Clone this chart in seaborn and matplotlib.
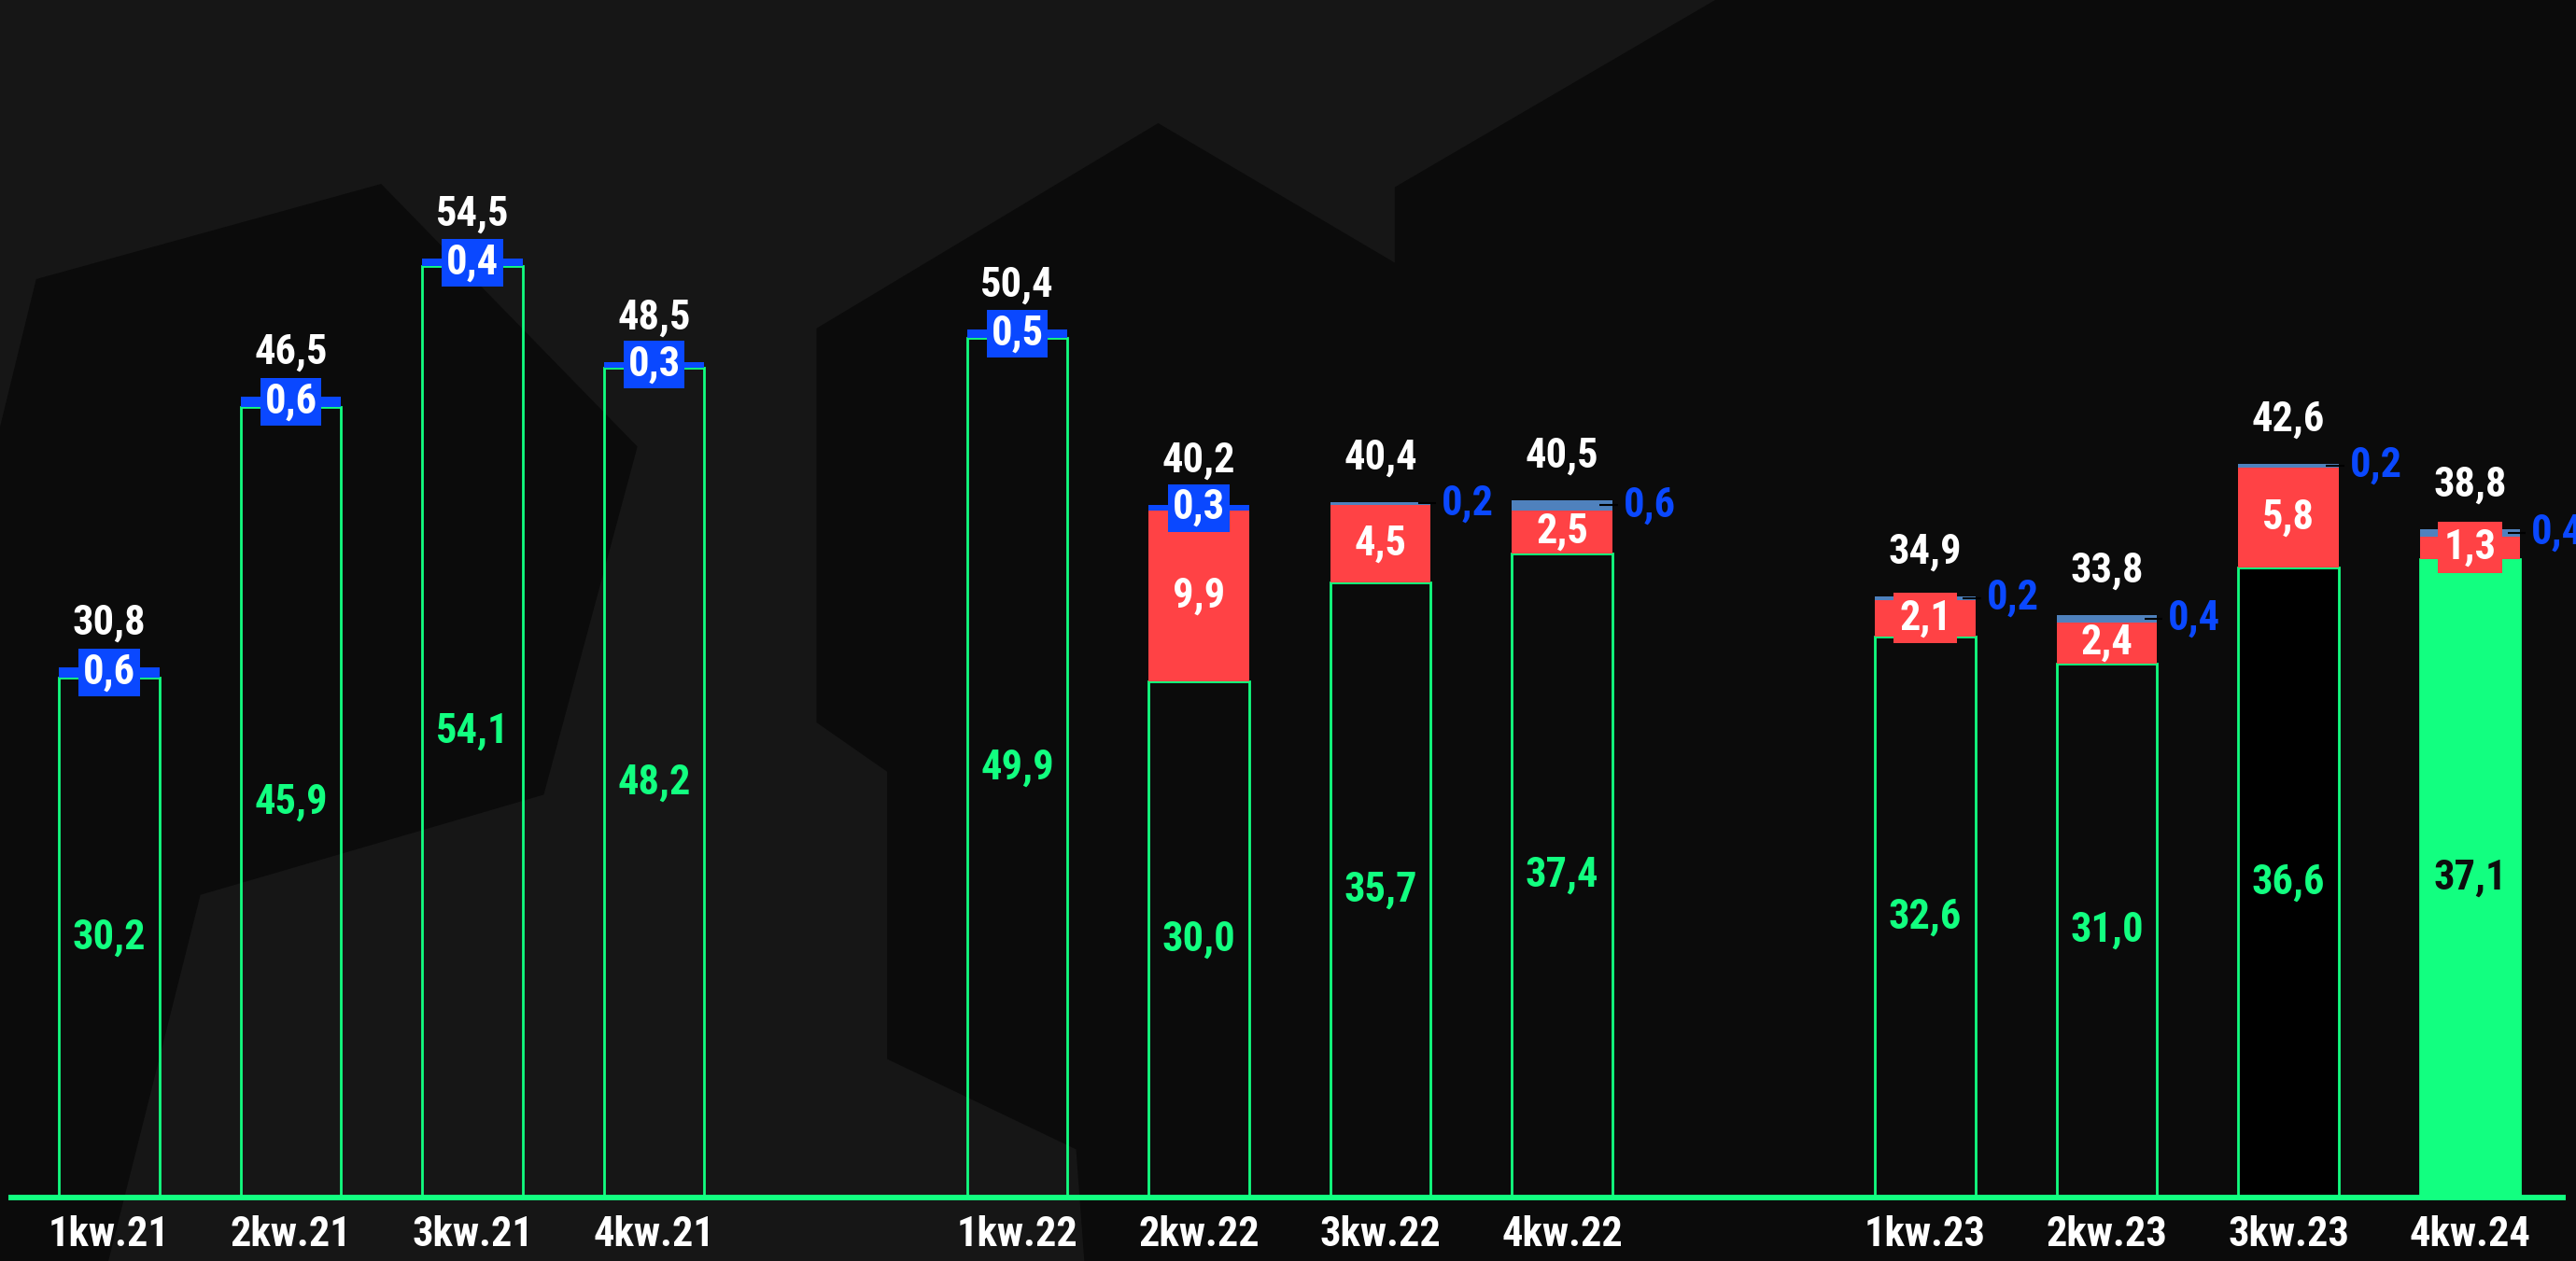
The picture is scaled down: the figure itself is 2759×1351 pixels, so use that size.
import numpy as np
import pandas as pd
import matplotlib.pyplot as plt
from matplotlib.patches import Polygon
import seaborn as sns

# -------------------------
# Data
# -------------------------

quarters = ["1kw.21", "2kw.21", "3kw.21", "4kw.21",
            "1kw.22", "2kw.22", "3kw.22", "4kw.22",
            "1kw.23", "2kw.23", "3kw.23", "4kw.24"]
group = [0, 0, 0, 0, 1, 1, 1, 1, 2, 2, 2, 2]
green_vals = [30.2, 45.9, 54.1, 48.2, 49.9, 30.0, 35.7, 37.4, 32.6, 31.0, 36.6, 37.1]
red_vals = [0, 0, 0, 0, 0, 9.9, 4.5, 2.5, 2.1, 2.4, 5.8, 1.3]
blue_vals = [0.6, 0.6, 0.4, 0.3, 0.5, 0.3, 0.2, 0.6, 0.2, 0.4, 0.2, 0.4]

df = pd.DataFrame({"quarter": quarters, "group": group,
                   "green": green_vals, "red": red_vals, "blue": blue_vals})
df["pos"] = np.arange(len(df)) + df["group"]  # one empty slot between groups
df["base2"] = df["green"] + df["red"]
df["total"] = df["base2"] + df["blue"]

def fmt(v):
    return f"{v:.1f}".replace(".", ",")

# -------------------------
# Style
# -------------------------

GREEN = "#12ff80"
RED = "#ff4245"
BLUE = "#0a48ff"
STEEL = "#4f81bd"
BG_LIGHT = "#161616"
BG_DARK = "#0b0b0b"
BAR_W = 0.555

sns.set_style("dark")
plt.rcParams["font.family"] = ["Roboto Condensed", "Noto Sans Condensed",
                               "Open Sans Condensed", "DejaVu Sans"]
plt.rcParams["font.stretch"] = "condensed"
plt.rcParams["font.weight"] = "bold"

fig = plt.figure(figsize=(27.59, 13.51), dpi=100, facecolor=BG_LIGHT)

# background shapes (pixel coords of a 1568x768 frame)
shapes = [
    [(0, 260), (22, 170), (232, 112), (388, 272), (331, 484), (122, 545), (66, 768), (0, 768)],
    [(497, 200), (705, 75), (849, 160), (849, 114), (1044, 0), (1568, 0), (1568, 768),
     (660, 768), (655, 700), (540, 645), (540, 470), (497, 440)],
]
for pts in shapes:
    fig.patches.append(Polygon([(x / 1568, 1 - y / 768) for x, y in pts], closed=True,
                               transform=fig.transFigure, facecolor=BG_DARK,
                               edgecolor="none", zorder=0))

ax = fig.add_axes([12 / 2759, 0, (2745 - 12) / 2759, 1])
ax.set_facecolor("none")
ax.set_zorder(2)

# -------------------------
# Stacked bars
# -------------------------

sns.barplot(x=df["pos"], y=df["green"], native_scale=True, orient="x", width=BAR_W,
            color=GREEN, saturation=1, errorbar=None, linewidth=2, edgecolor=GREEN, ax=ax)
green_bars = ax.containers[-1]
for i, p in enumerate(green_bars):
    if i == len(df) - 1:
        p.set_facecolor(GREEN)
    elif i == len(df) - 2:
        p.set_facecolor("black")
    else:
        p.set_facecolor("none")

sns.barplot(x=df["pos"], y=df["red"], bottom=df["green"], native_scale=True, orient="x",
            width=BAR_W, color=RED, saturation=1, errorbar=None, linewidth=0, ax=ax)
red_bars = ax.containers[-1]

sns.barplot(x=df["pos"], y=df["blue"], bottom=df["base2"], native_scale=True, orient="x",
            width=BAR_W, color=STEEL, saturation=1, errorbar=None, linewidth=0, ax=ax)
blue_bars = ax.containers[-1]

blue_boxed = [True] * 6 + [False] * 6
for p, boxed in zip(blue_bars, blue_boxed):
    if boxed:
        p.set_facecolor(BLUE)

# -------------------------
# Labels
# -------------------------

FS = 32

green_colors = ["#0d0d0d" if i == len(df) - 1 else GREEN for i in range(len(df))]
texts = ax.bar_label(green_bars, labels=[fmt(v) for v in df["green"]],
                     label_type="center", fontsize=FS)
for t, c in zip(texts, green_colors):
    t.set_color(c)

texts = ax.bar_label(red_bars, labels=[fmt(v) if v > 0 else "" for v in df["red"]],
                     label_type="center", fontsize=FS, color="white")
for t, v in zip(texts, df["red"]):
    if 0 < v < 2.2:
        t.set_bbox(dict(boxstyle="square,pad=0.14", facecolor=RED, edgecolor="none"))

texts = ax.bar_label(blue_bars, labels=[fmt(v) if b else "" for v, b in zip(df["blue"], blue_boxed)],
                     label_type="center", fontsize=FS, color="white")
for t, b in zip(texts, blue_boxed):
    if b:
        t.set_bbox(dict(boxstyle="square,pad=0.1", facecolor=BLUE, edgecolor="none"))

for _, row in df[[not b for b in blue_boxed]].iterrows():
    y = row["total"] - row["blue"] / 2
    right = row["pos"] + BAR_W / 2
    ax.hlines(y, right - 0.07, right + 0.03, color="black", linewidth=1.5, zorder=5)
    ax.text(right + 0.06, y, fmt(row["blue"]), color=BLUE, fontsize=FS,
            ha="left", va="center")

ax.bar_label(blue_bars, labels=[fmt(v) for v in df["total"]], padding=19,
             fontsize=FS, color="white")

# -------------------------
# Axes
# -------------------------

ax.set_xlim((12 - 117) / 194.5, (2745 - 117) / 194.5)
ax.set_ylim(-68 / 18.45, 1283 / 18.45)
ax.set_xticks(df["pos"], df["quarter"])
ax.set_yticks([])
ax.tick_params(axis="x", length=0, pad=14, labelsize=32, labelcolor="white")
ax.set_xlabel("")
ax.set_ylabel("")
ax.grid(False)
for side in ["top", "left", "right"]:
    ax.spines[side].set_visible(False)
ax.spines["bottom"].set_position(("data", 0))
ax.spines["bottom"].set_color(GREEN)
ax.spines["bottom"].set_linewidth(4.3)
ax.spines["bottom"].set_zorder(6)

fig.savefig("out.png", dpi=100, facecolor=fig.get_facecolor())
